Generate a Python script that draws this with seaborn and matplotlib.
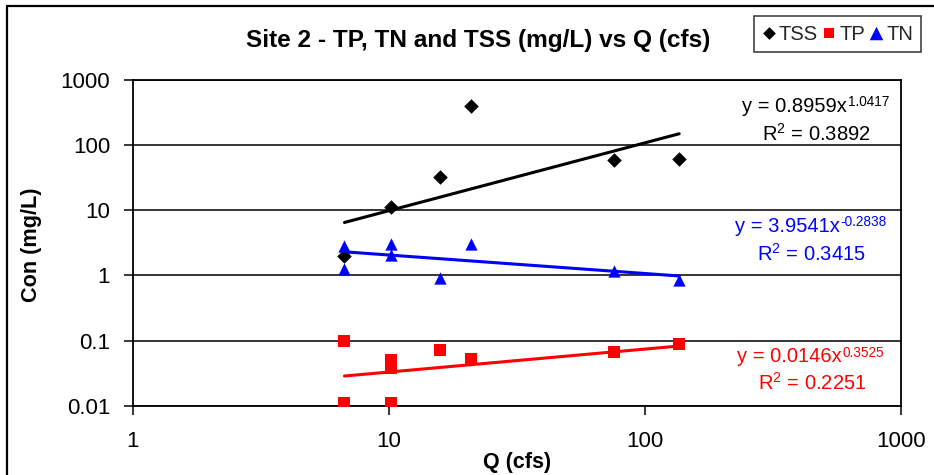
import numpy as np
import pandas as pd
import matplotlib
matplotlib.use("Agg")
import matplotlib.pyplot as plt
from matplotlib.lines import Line2D
import seaborn as sns

# Flow (cfs) and concentrations (mg/L) for Site 2
tss_q = [6.7, 10.2, 15.8, 20.9, 76.0, 136.0]
tss_c = [2.0, 11.2, 32.4, 394.0, 58.5, 61.8]

tn_q = [6.7, 6.7, 10.2, 10.2, 15.8, 20.9, 76.0, 136.0]
tn_c = [2.83, 1.27, 3.0, 2.03, 0.91, 3.03, 1.18, 0.85]

tp_q = [6.7, 6.7, 10.2, 10.2, 10.2, 15.8, 20.9, 76.0, 136.0]
tp_c = [0.1, 0.0111, 0.051, 0.038, 0.0111, 0.071, 0.052, 0.067, 0.088]

# Power trendline fits: y = a * x^b, with R^2
tss_fit = (0.8959, 1.0417, 0.3892)
tn_fit = (3.9541, -0.2838, 0.3415)
tp_fit = (0.0146, 0.3525, 0.2251)

x_ticks = [1, 10, 100, 1000]
y_ticks = [0.01, 0.1, 1, 10, 100, 1000]
y_tick_labels = ["0.01", "0.1", "1", "10", "100", "1000"]

sns.set_theme(style="white")
plt.rcParams["font.family"] = ["Liberation Sans", "DejaVu Sans"]
plt.rcParams["mathtext.fontset"] = "custom"
plt.rcParams["mathtext.rm"] = "Liberation Sans"
plt.rcParams["mathtext.it"] = "Liberation Sans"
plt.rcParams["mathtext.default"] = "rm"

W, H = 934, 475
fig = plt.figure(figsize=(W / 100, H / 100), dpi=100)
fig.patch.set_facecolor("white")
left, right, top, bottom = 133, 901, 80, 405.7
ax = fig.add_axes([left / W, 1 - bottom / H, (right - left) / W, (bottom - top) / H])
ax.set_facecolor("white")

ax.set_xscale("log")
ax.set_yscale("log")
ax.set_xlim(1, 1000)
ax.set_ylim(0.01, 1000)

# Horizontal gridlines at each decade
for yv in y_ticks:
    ax.axhline(yv, color="black", lw=1.1, zorder=1)


def trend(q, fit):
    a, b, _ = fit
    xs = np.geomspace(min(q), max(q), 60)
    return pd.DataFrame({"Q": xs, "C": a * xs ** b})


series = [
    ("TSS", tss_q, tss_c, tss_fit, "black", "D", 55),
    ("TP", tp_q, tp_c, tp_fit, "#FF0000", "s", 66),
    ("TN", tn_q, tn_c, tn_fit, "#0000FF", "^", 78),
]

for name, q, c, fit, col, mk, sz in series:
    df = pd.DataFrame({"Q": q, "C": c})
    sns.scatterplot(data=df, x="Q", y="C", ax=ax, color=col, marker=mk, s=sz,
                    edgecolor=col, linewidth=0, label=name, zorder=3)
    sns.lineplot(data=trend(q, fit), x="Q", y="C", ax=ax, color=col, lw=2.2,
                 legend=False, zorder=2)

ax.set_xticks(x_ticks)
ax.set_xticklabels([str(v) for v in x_ticks])
ax.set_yticks(y_ticks)
ax.set_yticklabels(y_tick_labels)
ax.minorticks_off()
ax.tick_params(axis="both", which="major", direction="out", length=6.5,
               width=1.1, color="black", labelsize=16, labelcolor="black",
               left=True, bottom=True)
ax.tick_params(axis="y", pad=10)
ax.tick_params(axis="x", pad=12)

for sp in ax.spines.values():
    sp.set_visible(True)
    sp.set_color("black")
    sp.set_linewidth(1.3)

ax.set_xlabel("Q (cfs)", fontsize=15.5, fontweight="bold", color="black", labelpad=0)
ax.set_ylabel("")
fig.text(31 / W, 1 - 245 / H, "Con (mg/L)", rotation=90, ha="center", va="center",
         fontsize=15.6, fontweight="bold", color="black")

fig.text(478 / W, 1 - 40 / H, "Site 2 - TP, TN and TSS (mg/L) vs Q (cfs)",
         ha="center", va="center", fontsize=17.6, fontweight="bold", color="black")

# Trendline equations: main text, superscript exponent, and R^2 line
labels = [
    (tss_fit, "black", 742, 106, 816, 134),
    (tn_fit, "#0000FF", 735, 226, 811, 254),
    (tp_fit, "#FF0000", 737, 357, 812, 383),
]
for (a, b, r2), col, x1, y1, x2, y2 in labels:
    main = fig.text(x1 / W, 1 - y1 / H, f"y = {a:.4f}x", ha="left",
                    va="center", fontsize=14.5, color=col)
    ax.annotate(f"{b:.4f}", xy=(1, 1), xycoords=main, xytext=(0.5, 1),
                textcoords="offset points", ha="left", va="top",
                fontsize=9.8, color=col, annotation_clip=False)
    fig.text(x2 / W, 1 - y2 / H, rf"R$^{{2}}$ = {r2:.4f}", ha="center",
             va="center", fontsize=14.5, color=col)

leg = ax.legend(loc="upper right", bbox_to_anchor=(921 / W, 1 - 16 / H),
                bbox_transform=fig.transFigure, ncol=3, frameon=True,
                fancybox=False, fontsize=14.5, handletextpad=0.15,
                columnspacing=0.2, borderpad=0.4, handlelength=0.7,
                handleheight=1.0, borderaxespad=0)
leg.get_frame().set_edgecolor("black")
leg.get_frame().set_linewidth(1.1)
for h, s in zip(leg.legend_handles, [42, 55, 95]):
    h.set_sizes([s])

# Outer chart frame
fig.add_artist(Line2D([7 / W, 7 / W], [0, 1 - 6 / H], color="black", lw=1.6,
                      transform=fig.transFigure))
fig.add_artist(Line2D([7 / W, 1], [1 - 6 / H, 1 - 6 / H], color="black", lw=1.6,
                      transform=fig.transFigure))

fig.savefig("out.png", dpi=100, facecolor="white")
